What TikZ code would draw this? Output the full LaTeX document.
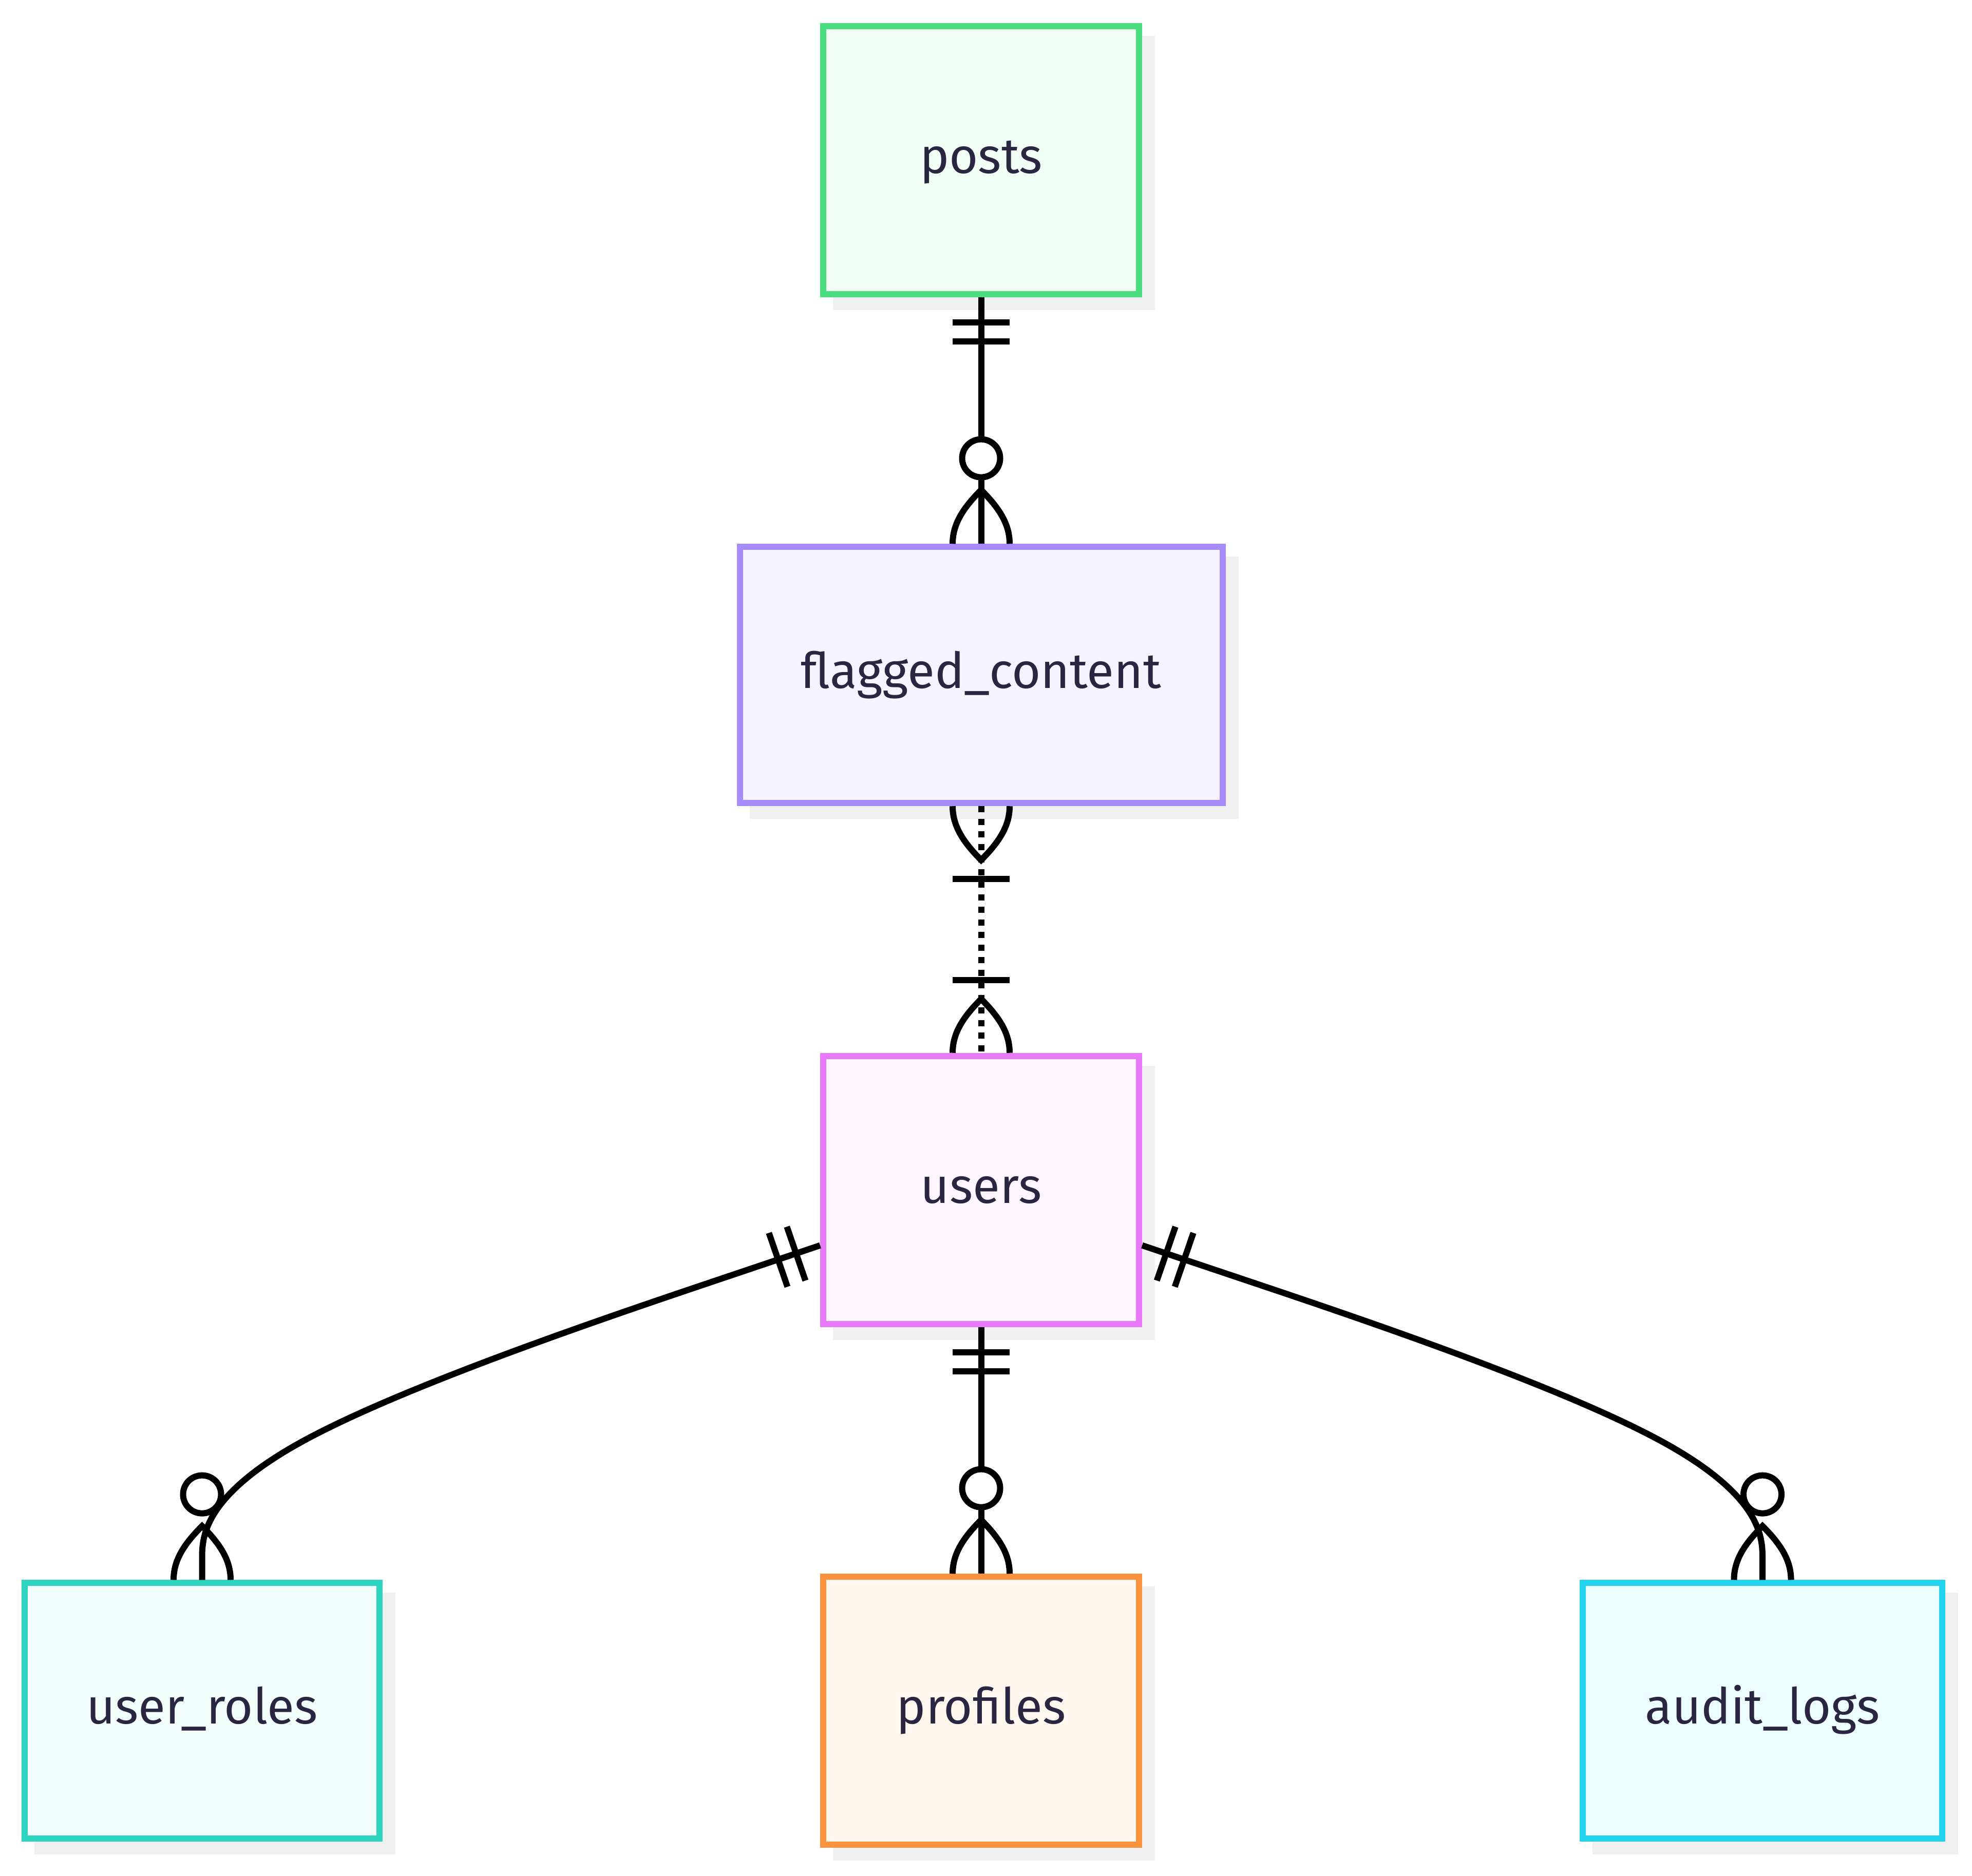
\documentclass[tikz,border=0pt]{standalone}
\usepackage{fontspec}
\setmainfont{Fira Sans}
\usetikzlibrary{positioning,calc,shadows}

\definecolor{entitytext}{HTML}{2A2541}
\definecolor{shadowgray}{HTML}{F0F0F0}
\definecolor{postsdraw}{HTML}{4ADE80}\definecolor{postsfill}{HTML}{F0FDF4}
\definecolor{flagdraw}{HTML}{A78BFA}\definecolor{flagfill}{HTML}{F5F3FF}
\definecolor{usersdraw}{HTML}{E879F9}\definecolor{usersfill}{HTML}{FDF4FF}
\definecolor{rolesdraw}{HTML}{2DD4BF}\definecolor{rolesfill}{HTML}{F0FDFA}
\definecolor{profdraw}{HTML}{FB923C}\definecolor{proffill}{HTML}{FFF7ED}
\definecolor{logsdraw}{HTML}{22D3EE}\definecolor{logsfill}{HTML}{ECFEFF}

\begin{document}
\begin{tikzpicture}[
    node distance=4.805cm and 8.52cm,
    entity/.style={rectangle, draw, line width=0.12cm, outer sep=0.06cm, inner sep=0pt,
        minimum width=6.15cm, minimum height=5.22cm, text=entitytext, font=\fontsize{27.5}{32}\selectfont,
        text height=14.5pt, text depth=0pt,
        general shadow={fill=shadowgray, draw=shadowgray, line width=0.12cm, shadow xshift=0.25cm, shadow yshift=-0.25cm}},
    erline/.style={line width=0.12cm, draw=black},
    erdotted/.style={dash pattern=on 0.12cm off 0.125cm},
    onlyone/.pic={\draw[erline] (0.494,-0.555) -- (0.494,0.555) (0.864,-0.555) -- (0.864,0.555);},
    zeromany/.pic={\draw[erline] (0,0.555) .. controls (0.370,0.555) and (0.679,0.370) .. (1.049,0)
        .. controls (0.679,-0.370) and (0.370,-0.555) .. (0,-0.555);
        \draw[erline, fill=white] (1.666,0) circle (0.370);},
    onemany/.pic={\draw[erline] (0,0.555) .. controls (0.370,0.555) and (0.679,0.370) .. (1.049,0)
        .. controls (0.679,-0.370) and (0.370,-0.555) .. (0,-0.555);
        \draw[erline] (1.419,-0.555) -- (1.419,0.555);}
]
\useasboundingbox (0,0) rectangle (38.40,36.53);

% entities
\node[entity, draw=postsdraw, fill=postsfill] (posts) at (19.105,33.4125) {posts};
\node[entity, draw=flagdraw, fill=flagfill, minimum width=9.40cm, minimum height=4.99cm, below=of posts] (flagged) {flagged\_content};
\node[entity, draw=usersdraw, fill=usersfill, below=of flagged] (users) {users};
\node[entity, draw=profdraw, fill=proffill, below=of users] (profiles) {profiles};
\node[entity, draw=rolesdraw, fill=rolesfill, minimum width=6.91cm, minimum height=4.98cm, left=of profiles] (user_roles) {user\_roles};
\node[entity, draw=logsdraw, fill=logsfill, minimum width=7.00cm, minimum height=4.98cm, right=of profiles] (audit_logs) {audit\_logs};

% straight relations
\draw[erline] (posts) -- (flagged);
\pic[rotate=-90] at (posts.south) {onlyone};
\pic[rotate=90] at (flagged.north) {zeromany};

\draw[erline, erdotted] (flagged) -- (users);
\pic[rotate=-90] at (flagged.south) {onemany};
\pic[rotate=90] at (users.north) {onemany};

\draw[erline] (users) -- (profiles);
\pic[rotate=-90] at (users.south) {onlyone};
\pic[rotate=90] at (profiles.north) {zeromany};

% curved relations
\coordinate (rolesstart) at (users.199);
\coordinate (rolesbend) at ($(user_roles.north)+(0,2.46)$);
\coordinate (logsstart) at (users.341);
\coordinate (logsbend) at ($(audit_logs.north)+(0,2.46)$);

\draw[erline] (rolesstart) -- ($(rolesstart)!1/6!(rolesbend)$)
    .. controls ($(rolesstart)!1/3!(rolesbend)$) and ($(rolesstart)!2/3!(rolesbend)$)
    .. ($1/6*(rolesstart)+2/3*(rolesbend)+1/6*(user_roles.north)$)
    .. controls ($(rolesbend)!1/3!(user_roles.north)$) and ($(rolesbend)!2/3!(user_roles.north)$)
    .. ($(rolesbend)!5/6!(user_roles.north)$) -- (user_roles.north);
\pic[rotate=199] at (rolesstart) {onlyone};
\pic[rotate=90] at (user_roles.north) {zeromany};

\draw[erline] (logsstart) -- ($(logsstart)!1/6!(logsbend)$)
    .. controls ($(logsstart)!1/3!(logsbend)$) and ($(logsstart)!2/3!(logsbend)$)
    .. ($1/6*(logsstart)+2/3*(logsbend)+1/6*(audit_logs.north)$)
    .. controls ($(logsbend)!1/3!(audit_logs.north)$) and ($(logsbend)!2/3!(audit_logs.north)$)
    .. ($(logsbend)!5/6!(audit_logs.north)$) -- (audit_logs.north);
\pic[rotate=-19] at (logsstart) {onlyone};
\pic[rotate=90] at (audit_logs.north) {zeromany};

\end{tikzpicture}
\end{document}
